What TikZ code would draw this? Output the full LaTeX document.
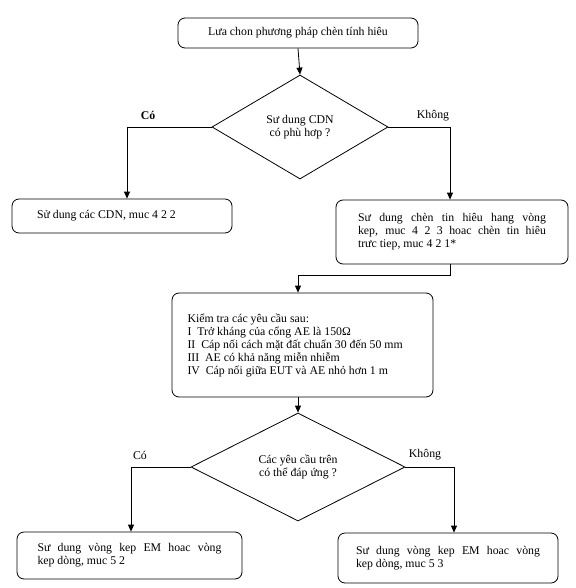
\documentclass[tikz,border=0pt]{standalone}
\usepackage{fontspec}
\setmainfont{Liberation Serif}
\usetikzlibrary{shapes.geometric,arrows.meta}
\newcommand{\jline}[2]{\makebox[#1][s]{#2}}
\begin{document}
\begin{tikzpicture}[x=1pt,y=-1pt,
  every node/.style={font=\fontsize{11.8}{13}\selectfont},
  box/.style={draw,rounded corners=7pt,line width=0.8pt,inner sep=0pt,align=center},
  dia/.style={draw,diamond,line width=0.8pt,inner sep=0pt,align=center},
  arr/.style={line width=0.8pt,-{Triangle[length=7pt,width=6pt]}},
  lbl/.style={inner sep=0pt}]
\useasboundingbox (0,0) rectangle (575,588);
\node[box,minimum width=240pt,minimum height=30pt] (top) at (298,33) {Lưa chon phương pháp chèn tính hiêu};
\node[dia,minimum width=176pt,minimum height=104pt] (d1) at (300,127) {Sư dung CDN\\có phù hơp ?};
\node[box,minimum width=220pt,minimum height=34pt] (lb1) at (122,216) {\makebox[170pt][l]{Sử dung các CDN, muc 4 2 2}};
\node[box,minimum width=232pt,minimum height=64pt] (rb1) at (452,232) {\parbox{188pt}{\baselineskip=13pt
\jline{188pt}{Sư dung chèn tin hiêu hang vòng}\\
\jline{188pt}{kep, muc 4 2 3 hoac chèn tin hiêu}\\
trưc tiep, muc 4 2 1*}};
\node[box,minimum width=261pt,minimum height=104pt] (mb) at (302.5,345) {\parbox{230pt}{\baselineskip=13pt Kiểm tra các yêu cầu sau:\\
I\ \ Trở kháng của cổng AE là 150Ω\\
II\ \ Cáp nối cách mặt đất chuẩn 30 đến 50 mm\\
III\ \ AE có khả năng miễn nhiễm\\
IV\ \ Cáp nối giữa EUT và AE nhỏ hơn 1 m}};
\node[dia,minimum width=214pt,minimum height=108pt] (d2) at (298,467) {Các yêu cầu trên\\có thể đáp ứng ?};
\node[box,minimum width=225pt,minimum height=47pt] (bl) at (129.5,555.5) {\parbox{184pt}{\baselineskip=13pt
\jline{184pt}{Sư dung vòng kep EM hoac vòng}\\
kep dòng, muc 5 2}};
\node[box,minimum width=220pt,minimum height=50pt] (br) at (448,558) {\parbox{184pt}{\baselineskip=13pt
\jline{184pt}{Sư dung vòng kep EM hoac vòng}\\
kep dòng, muc 5 3}};
\node[lbl,font=\fontsize{11.8}{13}\selectfont\bfseries] (c1) at (148,115) {Có};
\node[lbl] (k1) at (433,116) {Không};
\node[lbl] (c2) at (140,455) {Có};
\node[lbl] (k2) at (425,455) {Không};
\draw[arr] (top.south) -- (d1.north);
\draw[arr] (d1.west) -| ([xshift=5pt]lb1.north);
\draw[arr] (d1.east) -| ([xshift=-2pt]rb1.north);
\draw[arr] ([xshift=-2pt]rb1.south) -- ++(0,11) -| ([xshift=-4.5pt]mb.north);
\draw[arr] ([xshift=-4.5pt]mb.south) -- (d2.north);
\draw[arr] (d2.west) -| ([xshift=1.5pt]bl.north);
\draw[arr] (d2.east) -| ([xshift=6pt]br.north);
\end{tikzpicture}
\end{document}
